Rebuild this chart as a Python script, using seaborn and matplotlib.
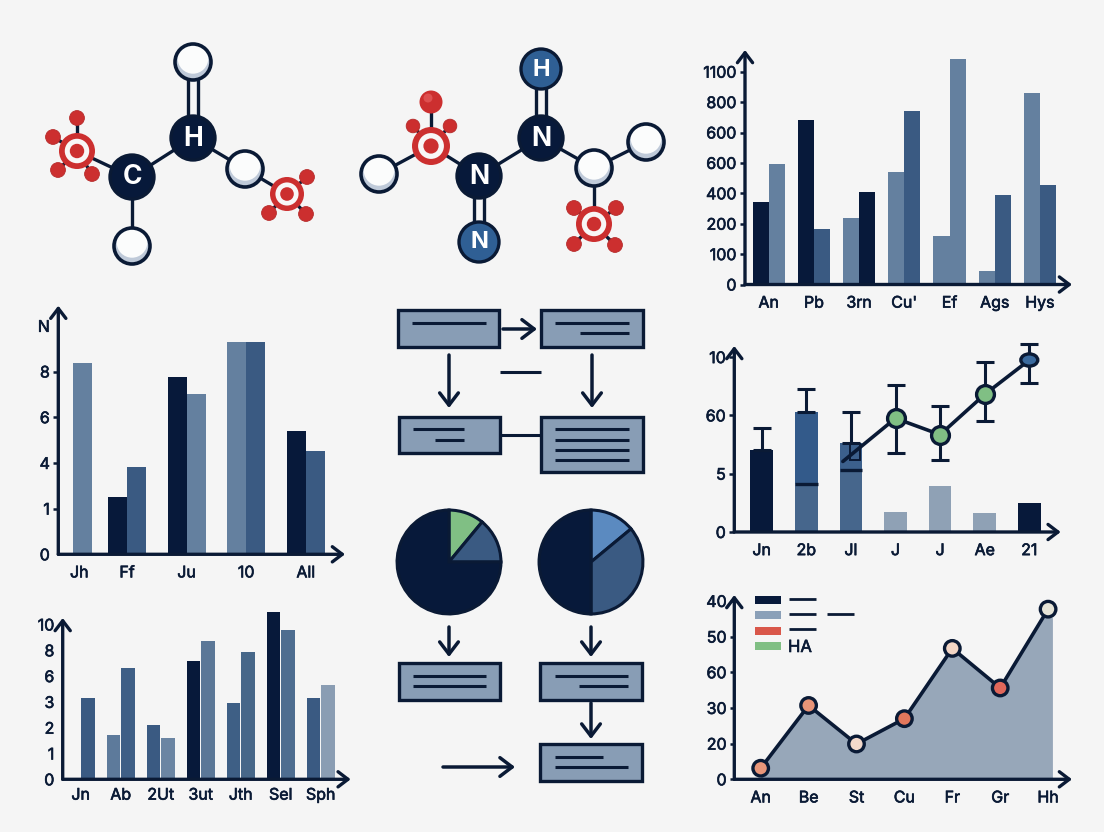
import matplotlib
matplotlib.use("Agg")
import matplotlib.patheffects as pe
import matplotlib.pyplot as plt
import pandas as pd
import seaborn as sns
from matplotlib.patches import Circle, Ellipse, Rectangle

W, H = 1104, 832
BG = "#f5f5f5"
NAVY = "#0a1a35"
DARK = "#07193a"
MID = "#3a5a82"
LIGHT = "#64809f"
PALE = "#8fa1b5"
BOX = "#889db5"
RED = "#cc2f2f"
GREEN = "#80bf84"

# ---- top right bars (heights in tick steps, tick labels are not linear)
a_labels = ["An", "Pb", "3rn", "Cu'", "Ef", "Ags", "Hys"]
a_first = [2.72, 5.42, 2.18, 3.69, 1.60, 0.44, 6.30]
a_second = [3.98, 1.82, 3.03, 5.70, 7.43, 2.95, 3.26]
a_first_colors = [DARK, DARK, LIGHT, LIGHT, LIGHT, LIGHT, LIGHT]
a_second_colors = [LIGHT, MID, DARK, MID, LIGHT, MID, MID]
a_ticks = ["0", "100", "200", "400", "600", "600", "800", "1100"]

# ---- middle left bars
b_labels = ["Jh", "Ff", "Ju", "10", "All"]
b_first = [0, 1.25, 3.87, 4.65, 2.69]
b_second = [4.19, 1.90, 3.50, 4.65, 2.26]
b_first_colors = [LIGHT, DARK, DARK, LIGHT, DARK]
b_second_colors = [LIGHT, MID, LIGHT, MID, MID]
b_ticks = ["0", "1", "4", "6", "8", "N"]

# ---- bottom left bars
c_labels = ["Jn", "Ab", "2Ut", "3ut", "Jth", "Sel", "Sph"]
c_first = [0, 1.72, 2.09, 4.57, 2.95, 6.49, 3.14]
c_second = [3.14, 4.31, 1.59, 5.37, 4.92, 5.79, 3.64]
c_first_colors = [MID, "#5d7a9b", MID, DARK, "#3e5f85", DARK, MID]
c_second_colors = [MID, "#3f5f86", "#6b85a3", "#5b7797", "#476789", "#4e6d90", "#8a9db3"]
c_ticks = ["0", "1", "2", "3", "6", "8", "10"]

# ---- middle right bars + line
d_labels = ["Jn", "2b", "Jl", "J", "J", "Ae", "21"]
d_values = [1.41, 2.06, 1.52, 0.35, 0.79, 0.33, 0.50]
d_colors = [DARK, "#335a8a", "#3c608c", PALE, PALE, PALE, DARK]
d_bands = [0, 0.82, 1.06, 0, 0, 0, 0]
d_err_x = [0, 1, 2, 3, 4, 5, 6]
d_err_low = [1.41, 2.06, 1.52, 1.36, 1.23, 1.91, 2.56]
d_err_high = [1.79, 2.45, 2.05, 2.52, 2.16, 2.91, 3.22]
d_line_x = [1.82, 3, 4, 5, 6]
d_line_y = [1.21, 1.95, 1.67, 2.36, 2.95]
d_ticks = ["0", "5", "60", "10"]

# ---- bottom right area
e_labels = ["An", "Be", "St", "Cu", "Fr", "Gr", "Hh"]
e_values = [0.31, 2.07, 0.99, 1.70, 3.67, 2.56, 4.77]
e_marker_colors = ["#e8967a", "#e89478", "#f3d9cb", "#e2775c", "#f2d5c5", "#e0675a", "#e6e4d8"]
e_ticks = ["0", "20", "30", "60", "50", "40"]
e_legend_colors = [DARK, "#8ba0b8", "#d9574a", GREEN]

# ---- pies
pie_left_values = [11, 14, 75]
pie_left_colors = [GREEN, MID, DARK]
pie_right_values = [14, 36, 50]
pie_right_colors = ["#5b8ac0", MID, DARK]

sns.set_theme(style="white")
plt.rcParams["font.family"] = ["Inter", "DejaVu Sans"]

fig = plt.figure(figsize=(W / 100, H / 100), dpi=100, facecolor=BG)
HEAVY = [pe.withStroke(linewidth=0.45, foreground=NAVY)]


def chart_axes(left, right, base, top, c0, pitch, step, ticks, tick_len=3.6):
    """Axes placed by pixels, with the arrow shaped spines of the picture."""
    ax = fig.add_axes([left / W, 1 - base / H, (right - left) / W, (base - top) / H])
    ax.patch.set_alpha(0)
    ax.set_xlim((left - c0) / pitch, (right - c0) / pitch)
    ax.set_ylim(0, (base - top) / step)
    for s in ax.spines.values():
        s.set_visible(False)
    for xy in [(0, 1), (1, 0)]:
        ax.annotate(
            "", xy=xy, xytext=(0, 0), xycoords="axes fraction",
            arrowprops=dict(arrowstyle="->,head_length=0.55,head_width=0.42", color=NAVY,
                            lw=2.4, shrinkA=0, shrinkB=0, mutation_scale=13),
        )
    ax.set_yticks(range(len(ticks)))
    ax.set_yticklabels(ticks, fontsize=11.5, color=NAVY)
    ax.tick_params(axis="y", length=tick_len, width=1.8, color=NAVY, pad=2.5, left=True)
    ax.tick_params(axis="x", length=0, pad=8, labelsize=11.5, labelcolor=NAVY, bottom=False)
    ax.set_xlabel("")
    ax.set_ylabel("")
    return ax


def heavy_labels(ax):
    for t in ax.get_xticklabels() + ax.get_yticklabels():
        t.set_path_effects(HEAVY)


def paired_bars(ax, labels, first, second, first_colors, second_colors, width, gap=0):
    n = len(labels)
    df = pd.DataFrame({
        "pos": list(range(n)) * 2,
        "series": ["a"] * n + ["b"] * n,
        "value": first + second,
    })
    keep = ax.get_xlim(), ax.get_ylim()
    sns.barplot(data=df, x="pos", y="value", hue="series", width=width, gap=gap,
                legend=False, saturation=1, linewidth=0, ax=ax)
    for cont, colors in zip(ax.containers, [first_colors, second_colors]):
        for bar, col in zip(cont, colors):
            bar.set_facecolor(col)
            # some bars rise past the arrow tip of the y axis
            bar.set_clip_on(False)
    ax.set_xlim(keep[0])
    ax.set_ylim(keep[1])
    ax.set_xticks(range(n))
    ax.set_xticklabels(labels)
    ax.set_xlabel("")
    ax.set_ylabel("")


# top right
ax_a = chart_axes(745, 1072, 284.5, 50, 768.7, 45.2, 30.4, a_ticks)
paired_bars(ax_a, a_labels, a_first, a_second, a_first_colors, a_second_colors, 0.71)
heavy_labels(ax_a)

# middle left, the first bar stands alone and sits a bit to the right
ax_b = chart_axes(58.3, 345, 554.3, 305.7, 67.4, 59.6, 45.7, b_ticks)
paired_bars(ax_b, b_labels, b_first, b_second, b_first_colors, b_second_colors, 0.64)
ax_b.containers[1][0].set_x(ax_b.containers[1][0].get_x() + 0.1)
ax_b.set_xticks([0.2, 1, 2, 3, 4])
ax_b.set_xticklabels(b_labels)
ax_b.yaxis.get_major_ticks()[0].tick1line.set_visible(False)
ax_b.yaxis.get_major_ticks()[-1].tick1line.set_visible(False)
heavy_labels(ax_b)

# bottom left
ax_c = chart_axes(62.7, 350.7, 779.3, 618, 80.7, 40, 25.8, c_ticks, tick_len=0)
ax_c.tick_params(axis="y", pad=6)
ax_c.tick_params(axis="x", pad=6)
paired_bars(ax_c, c_labels, c_first, c_second, c_first_colors, c_second_colors, 0.72, gap=0.05)
heavy_labels(ax_c)

# middle right
ax_d = chart_axes(734.3, 1060.7, 532, 346, 761.7, 44.6, 58.3, d_ticks)
d_keep = ax_d.get_xlim(), ax_d.get_ylim()
d_pos = list(range(len(d_labels)))
sns.barplot(x=d_pos, y=d_values, width=0.51, color=DARK, saturation=1, linewidth=0, ax=ax_d)
for bar, col in zip(ax_d.containers[0], d_colors):
    bar.set_facecolor(col)
sns.barplot(x=d_pos, y=d_bands, width=0.51, color="#46668c", saturation=1, linewidth=0, ax=ax_d)
ax_d.hlines(d_bands[1:3], [0.745, 1.745], [1.255, 2.255], color=NAVY, lw=2.4, zorder=3)
ax_d.errorbar(
    d_err_x, d_err_low,
    yerr=[[0] * len(d_err_x), [h - l for h, l in zip(d_err_high, d_err_low)]],
    fmt="none", ecolor=NAVY, elinewidth=2.2, capsize=6.5, capthick=2.2, zorder=3,
)
sns.lineplot(x=d_line_x, y=d_line_y, sort=False, color=NAVY, lw=2.6, ax=ax_d, zorder=4)
sns.scatterplot(x=d_line_x[1:4], y=d_line_y[1:4], s=165, color=GREEN, edgecolor=NAVY,
                linewidth=2.4, ax=ax_d, zorder=5)
ax_d.add_patch(Ellipse((d_line_x[4], d_line_y[4]), 0.38, 0.21, fc="#3a6a9e", ec=NAVY, lw=2.4, zorder=5))
for artist in ax_d.get_children():
    artist.set_clip_on(False)
ax_d.set_xlim(d_keep[0])
ax_d.set_ylim(d_keep[1])
ax_d.set_xticks(d_pos)
ax_d.set_xticklabels(d_labels)
ax_d.set_xlabel("")
ax_d.set_ylabel("")
heavy_labels(ax_d)

# bottom right
ax_e = chart_axes(734.3, 1072, 779.3, 595, 760.7, 47.9, 35.67, e_ticks, tick_len=3)
e_pos = list(range(len(e_labels)))
ax_e.fill_between(e_pos + [6.09], e_values + [4.52], 0, color="#97a7b9", lw=0, zorder=1)
sns.lineplot(x=e_pos, y=e_values, color=NAVY, lw=2.6, ax=ax_e, zorder=3)
sns.scatterplot(x=e_pos, y=e_values, hue=e_labels, palette=e_marker_colors, s=125,
                edgecolor=NAVY, linewidth=2.4, legend=False, ax=ax_e, zorder=4, clip_on=False)
ax_e.set_xlim((734.3 - 760.7) / 47.9, (1072 - 760.7) / 47.9)
ax_e.set_xticks(e_pos)
ax_e.set_xticklabels(e_labels)
ax_e.set_xlabel("")
ax_e.set_ylabel("")
heavy_labels(ax_e)

# pies
for cx, cy, vals, cols in [
    (449, 562, pie_left_values, pie_left_colors),
    (591, 562, pie_right_values, pie_right_colors),
]:
    r = 53
    ax_p = fig.add_axes([(cx - r) / W, 1 - (cy + r) / H, 2 * r / W, 2 * r / H])
    ax_p.pie(vals, colors=cols, startangle=90, counterclock=False, radius=0.98,
             wedgeprops=dict(edgecolor=NAVY, linewidth=2.2))
    ax_p.set_xlim(-1, 1)
    ax_p.set_ylim(-1, 1)

# overlay in picture pixels for the molecules, the flow boxes and the legend
ov = fig.add_axes([0, 0, 1, 1], zorder=10)
ov.set_xlim(0, W)
ov.set_ylim(H, 0)
ov.axis("off")
ov.patch.set_alpha(0)


def bond(p, q, z=1):
    ov.plot([p[0], q[0]], [p[1], q[1]], color=NAVY, lw=2.4, zorder=z, solid_capstyle="butt")


def double_bond(p, q):
    bond((p[0] - 5, p[1]), (q[0] - 5, q[1]))
    bond((p[0] + 5, p[1]), (q[0] + 5, q[1]))


def atom(p, r, color, label, size=19):
    ov.add_patch(Circle(p, r, fc=color, ec=NAVY, lw=2.4, zorder=3))
    ov.text(p[0], p[1] + 0.5, label, color="white", fontsize=size, fontweight="bold",
            ha="center", va="center", zorder=4)


def white_atom(p, r=18):
    ov.add_patch(Circle(p, r, fc="#bfcad9", lw=0, zorder=3))
    ov.add_patch(Circle((p[0], p[1] - r * 0.2), r * 0.85, fc="#fbfcfc", lw=0, zorder=3))
    ov.add_patch(Circle(p, r, fc="none", ec=NAVY, lw=2.6, zorder=3))


def red_atom(p, r, small, small_r=7.4):
    for s in small:
        bond(p, s, 2)
        ov.add_patch(Circle(s, small_r, fc=RED, ec="#b52a2a", lw=0.6, zorder=3))
    ov.add_patch(Circle(p, r, fc=RED, lw=0, zorder=3))
    ov.add_patch(Circle(p, r * 0.68, fc="#f8f6f6", lw=0, zorder=3))
    ov.add_patch(Circle(p, r * 0.4, fc=RED, lw=0, zorder=3))


# left molecule
m_c, m_h = (132, 177), (193, 138)
bond(m_c, m_h)
bond(m_c, (132, 246))
double_bond(m_h, (193, 62))
bond(m_h, (245, 169))
bond((245, 169), (287, 194))
bond((77, 151), m_c)
atom(m_c, 22, DARK, "C")
atom(m_h, 22, DARK, "H")
white_atom((193, 62))
white_atom((132, 246))
white_atom((245, 169))
red_atom((77, 151), 18, [(77, 118), (53, 137), (58, 170), (92, 174)])
red_atom((287, 194), 17, [(307, 177), (269, 213), (306, 214)])

# right molecule
n_a, n_b = (479, 176), (541, 138)
bond((379, 174), (431, 146))
bond((431, 146), n_a)
bond(n_a, n_b)
bond(n_b, (594, 168))
bond((594, 168), (646, 142))
bond((594, 168), (594, 224))
double_bond(n_b, (541, 69))
double_bond(n_a, (479, 242))
bond((431, 146), (431, 102))
atom(n_a, 22, DARK, "N")
atom(n_b, 22, DARK, "N")
atom((541, 69), 20, "#2f5f94", "H", 17)
atom((479, 242), 20, "#2f5f94", "N", 17)
white_atom((379, 174))
white_atom((594, 168))
white_atom((646, 142))
red_atom((431, 146), 19, [(413, 126), (450, 126)], 6.8)
ov.add_patch(Circle((431, 102), 11.5, fc=RED, lw=0, zorder=3))
ov.add_patch(Circle((428, 98), 4.5, fc="#de5050", lw=0, zorder=3))
red_atom((594, 224), 18, [(574, 208), (616, 208), (574, 244), (615, 245)])


def box(x0, x1, y0, y1, rows):
    ov.add_patch(Rectangle((x0, y0), x1 - x0, y1 - y0, fc=BOX, ec=NAVY, lw=2.4, zorder=2))
    for a, b, y in rows:
        ov.plot([a, b], [y, y], color=NAVY, lw=2.2, zorder=3, solid_capstyle="butt")


box(398, 499, 310, 347, [(412, 486, 323)])
box(541, 643, 310, 347, [(555, 629, 323), (580, 629, 333)])
box(399, 500, 417, 453, [(413, 464, 429), (435, 464, 440)])
box(541, 643, 417, 472, [(555, 629, 429), (555, 629, 440), (555, 629, 450), (555, 629, 460)])
box(399, 500, 663, 700, [(413, 486, 676), (413, 486, 686)])
box(540, 642, 663, 700, [(555, 628, 676), (579, 628, 686)])
box(540, 642, 744, 781, [(555, 603, 757), (555, 628, 767)])


def arrow(p, q):
    ov.annotate("", xy=q, xytext=p, xycoords="data",
                arrowprops=dict(arrowstyle="->,head_length=0.55,head_width=0.42", color=NAVY,
                                lw=2.5, shrinkA=0, shrinkB=0, mutation_scale=16))


arrow((503, 329), (537, 329))
arrow((449, 355), (449, 408))
arrow((592, 355), (592, 408))
arrow((449, 627), (449, 657))
arrow((591, 627), (591, 657))
arrow((591, 703), (591, 739))
arrow((443, 767), (515, 767))
ov.plot([500, 541], [372, 372], color=NAVY, lw=2.2, solid_capstyle="butt")
ov.plot([500, 541], [435, 435], color=NAVY, lw=2.2, solid_capstyle="butt")

# small outline at the start of the line in the middle right chart
ov.add_patch(Rectangle((850, 444), 10, 16, fc="none", ec=NAVY, lw=1.4))

# legend of the area chart
for y, col in zip([599.5, 615, 631, 646], e_legend_colors):
    ov.add_patch(Rectangle((755, y - 4), 26, 8, fc=col, lw=0))
for a, b, y in [(789, 816, 599), (789, 816, 614), (827, 854, 614), (789, 816, 629)]:
    ov.plot([a, b], [y, y], color=NAVY, lw=2, solid_capstyle="butt")
ov.text(788, 647.5, "HA", fontsize=12, color=NAVY, va="center", ha="left", path_effects=HEAVY)

fig.savefig("out.png", dpi=100, facecolor=BG)
